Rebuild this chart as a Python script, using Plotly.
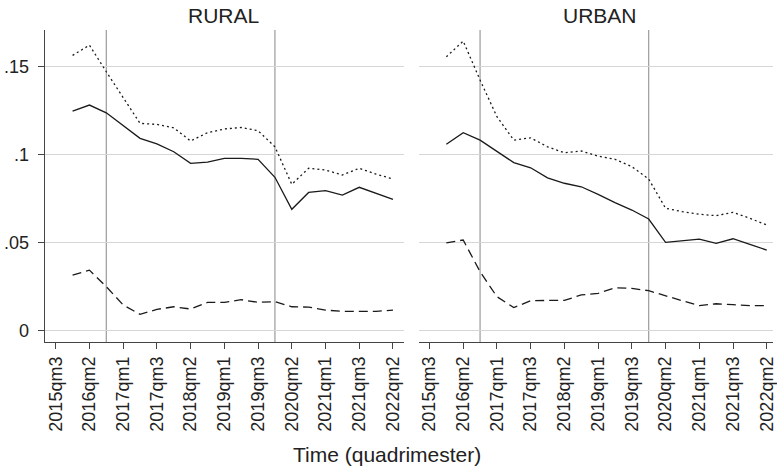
import plotly.graph_objects as go

# ---- data ----
all_periods = ["2015qm3", "2016qm1", "2016qm2", "2016qm3",
               "2017qm1", "2017qm2", "2017qm3",
               "2018qm1", "2018qm2", "2018qm3",
               "2019qm1", "2019qm2", "2019qm3",
               "2020qm1", "2020qm2", "2020qm3",
               "2021qm1", "2021qm2", "2021qm3",
               "2022qm1", "2022qm2"]
periods = all_periods[1:]  # data from 2016qm1 to 2022qm2
tick_labels = all_periods[::2]
event_periods = ["2016qm3", "2020qm1"]

rural_solid = [0.1247, 0.1281, 0.1237, 0.1167, 0.1092, 0.1060, 0.1016, 0.0950, 0.0957, 0.0978,
               0.0978, 0.0973, 0.0871, 0.0689, 0.0785, 0.0795, 0.0770, 0.0814, 0.0780, 0.0746]
rural_dot = [0.1563, 0.1621, 0.1470, 0.1320, 0.1177, 0.1171, 0.1152, 0.1077, 0.1124, 0.1145,
             0.1154, 0.1135, 0.1044, 0.0831, 0.0922, 0.0912, 0.0884, 0.0922, 0.0889, 0.0861]
rural_dash = [0.0316, 0.0344, 0.0250, 0.0146, 0.0093, 0.0121, 0.0136, 0.0123, 0.0161, 0.0161,
              0.0176, 0.0161, 0.0165, 0.0136, 0.0134, 0.0117, 0.0110, 0.0108, 0.0110, 0.0117]

urban_solid = [0.1058, 0.1124, 0.1082, 0.1016, 0.0954, 0.0925, 0.0868, 0.0837, 0.0817, 0.0774,
               0.0727, 0.0685, 0.0634, 0.0502, 0.0509, 0.0520, 0.0496, 0.0522, 0.0490, 0.0458]
urban_dot = [0.1555, 0.1644, 0.1423, 0.1215, 0.1082, 0.1095, 0.1044, 0.1010, 0.1020, 0.0991,
             0.0973, 0.0931, 0.0861, 0.0695, 0.0676, 0.0661, 0.0653, 0.0672, 0.0638, 0.0600]
urban_dash = [0.0499, 0.0515, 0.0335, 0.0193, 0.0131, 0.0170, 0.0172, 0.0172, 0.0203, 0.0212,
              0.0244, 0.0240, 0.0227, 0.0197, 0.0170, 0.0142, 0.0153, 0.0148, 0.0142, 0.0142]

y_ticks = [0, 0.05, 0.1, 0.15]
y_tick_text = ["0", ".05", ".1", ".15"]

# ---- figure ----
W, H = 777, 469
idx = {p: i for i, p in enumerate(all_periods)}
xs = [idx[p] for p in periods]
tickvals = [idx[p] for p in tick_labels]

FONT = "Liberation Sans, Arial, sans-serif"
LINE = "#1a1a1a"

fig = go.Figure()
panels = [("x", "y", rural_solid, rural_dot, rural_dash),
          ("x2", "y2", urban_solid, urban_dot, urban_dash)]
for xa, ya, s, d, ds in panels:
    fig.add_trace(go.Scatter(x=xs, y=s, mode="lines", xaxis=xa, yaxis=ya,
                             line=dict(color=LINE, width=1.3), showlegend=False))
    fig.add_trace(go.Scatter(x=xs, y=d, mode="lines", xaxis=xa, yaxis=ya,
                             line=dict(color=LINE, width=1.3, dash="2px,3px"), showlegend=False))
    fig.add_trace(go.Scatter(x=xs, y=ds, mode="lines", xaxis=xa, yaxis=ya,
                             line=dict(color=LINE, width=1.3, dash="9px,5px"), showlegend=False))
    for ep in event_periods:
        fig.add_shape(type="line", xref=xa, yref=ya + " domain",
                      x0=idx[ep], x1=idx[ep], y0=0, y1=1,
                      line=dict(color="#9a9a9a", width=1.2), layer="below")

px_per_unit = 16.95
ydom = [1 - 342.3 / H, 1 - 30 / H]
yrange = [-0.00658, 0.1707]

common_x = dict(tickmode="array", tickvals=tickvals, ticktext=tick_labels,
                tickangle=-90, ticks="outside", ticklen=6, tickwidth=1.2,
                tickcolor="#444", showline=True, linecolor="#444", linewidth=1.2,
                showgrid=False, zeroline=False, ticklabeloverflow="allow",
                tickfont=dict(family=FONT, size=18, color="#222"))
common_y = dict(tickmode="array", tickvals=y_ticks, ticktext=y_tick_text,
                range=yrange, domain=ydom, showgrid=True, gridcolor="#d6d6d6",
                gridwidth=1.2, zeroline=False,
                tickfont=dict(family=FONT, size=18, color="#222"))

x1_range = [-11 / px_per_unit, 20 + 11 / px_per_unit]
x2_start = -10.7 / px_per_unit
x2_range = [x2_start, x2_start + (777 - 421) / px_per_unit]

fig.update_layout(
    width=W, height=H,
    margin=dict(l=0, r=0, t=0, b=0),
    paper_bgcolor="white", plot_bgcolor="white",
    xaxis=dict(domain=[45 / W, 406 / W], range=x1_range, anchor="y", **common_x),
    xaxis2=dict(domain=[421 / W, 1.0], range=x2_range, anchor="y2", **common_x),
    yaxis=dict(anchor="x", showline=True, linecolor="#444", linewidth=1.2,
               ticks="outside", ticklen=6, tickwidth=1.2, tickcolor="#444",
               ticklabelstandoff=5, **common_y),
    yaxis2=dict(anchor="x2", showline=False, showticklabels=False, ticks="", **common_y),
    annotations=[
        dict(text="RURAL", x=225 / W, y=1 - 15 / H, xref="paper", yref="paper",
             showarrow=False, xanchor="center", yanchor="middle",
             font=dict(family=FONT, size=21, color="#222")),
        dict(text="URBAN", x=603 / W, y=1 - 15 / H, xref="paper", yref="paper",
             showarrow=False, xanchor="center", yanchor="middle",
             font=dict(family=FONT, size=21, color="#222")),
        dict(text="Time (quadrimester)", x=388.5 / W, y=1 - 454 / H, xref="paper", yref="paper",
             showarrow=False, xanchor="center", yanchor="middle",
             font=dict(family=FONT, size=21, color="#222")),
    ],
)

fig.write_html("out.html", config={"displayModeBar": False},
               post_script="document.body.style.margin='0';document.body.style.overflow='hidden';")
